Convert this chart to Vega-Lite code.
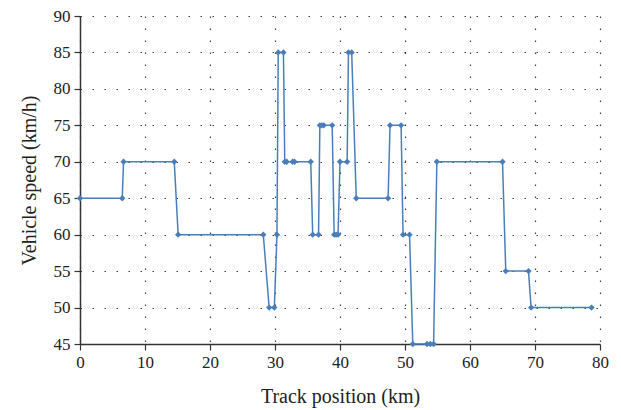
{
  "$schema": "https://vega.github.io/schema/vega-lite/v6.json",
  "width": 520,
  "height": 328,
  "autosize": {"type": "none"},
  "padding": {"left": 80, "top": 16, "right": 21, "bottom": 66},
  "config": {
    "view": {"stroke": null},
    "font": "Liberation Serif",
    "axis": {
      "labelFont": "Liberation Serif",
      "titleFont": "Liberation Serif",
      "labelFontSize": 17,
      "titleFontSize": 20,
      "titleFontWeight": "normal",
      "labelColor": "#222",
      "titleColor": "#222",
      "labelFlush": false,
      "domainColor": "#333",
      "domainWidth": 1.5,
      "tickColor": "#333",
      "tickWidth": 1.2,
      "tickSize": 6,
      "grid": true,
      "gridColor": "#000",
      "gridDash": [1.5, 10.5],
      "gridWidth": 1.2,
      "gridOpacity": 0.75
    }
  },
  "data": {
    "values": [
      {"km": 0, "speed": 65},
      {"km": 6.5, "speed": 65},
      {"km": 6.7, "speed": 70},
      {"km": 14.5, "speed": 70},
      {"km": 15.1, "speed": 60},
      {"km": 28.2, "speed": 60},
      {"km": 29.1, "speed": 50},
      {"km": 29.9, "speed": 50},
      {"km": 30.3, "speed": 60},
      {"km": 30.5, "speed": 85},
      {"km": 31.3, "speed": 85},
      {"km": 31.5, "speed": 70},
      {"km": 31.8, "speed": 70},
      {"km": 32.7, "speed": 70},
      {"km": 33.0, "speed": 70},
      {"km": 35.5, "speed": 70},
      {"km": 35.8, "speed": 60},
      {"km": 36.7, "speed": 60},
      {"km": 36.9, "speed": 75},
      {"km": 37.2, "speed": 75},
      {"km": 37.5, "speed": 75},
      {"km": 38.8, "speed": 75},
      {"km": 39.1, "speed": 60},
      {"km": 39.4, "speed": 60},
      {"km": 39.7, "speed": 60},
      {"km": 40.0, "speed": 70},
      {"km": 41.1, "speed": 70},
      {"km": 41.3, "speed": 85},
      {"km": 41.8, "speed": 85},
      {"km": 42.5, "speed": 65},
      {"km": 47.4, "speed": 65},
      {"km": 47.7, "speed": 75},
      {"km": 49.4, "speed": 75},
      {"km": 49.7, "speed": 60},
      {"km": 50.7, "speed": 60},
      {"km": 51.2, "speed": 45},
      {"km": 53.4, "speed": 45},
      {"km": 53.9, "speed": 45},
      {"km": 54.4, "speed": 45},
      {"km": 54.9, "speed": 70},
      {"km": 65.0, "speed": 70},
      {"km": 65.5, "speed": 55},
      {"km": 69.0, "speed": 55},
      {"km": 69.4, "speed": 50},
      {"km": 78.7, "speed": 50}
    ]
  },
  "mark": {
    "type": "line",
    "color": "#4a7ebb",
    "strokeWidth": 1.5,
    "point": {"shape": "diamond", "filled": true, "size": 40, "color": "#4a7ebb"}
  },
  "encoding": {
    "x": {
      "field": "km",
      "type": "quantitative",
      "scale": {"domain": [0, 80], "nice": false},
      "axis": {
        "values": [0, 10, 20, 30, 40, 50, 60, 70, 80],
        "title": "Track position (km)",
        "labelPadding": 4,
        "titlePadding": 16
      }
    },
    "y": {
      "field": "speed",
      "type": "quantitative",
      "scale": {"domain": [45, 90], "nice": false, "zero": false},
      "axis": {
        "values": [45, 50, 55, 60, 65, 70, 75, 80, 85, 90],
        "title": "Vehicle speed (km/h)",
        "labelPadding": 4,
        "titlePadding": 14
      }
    }
  }
}
